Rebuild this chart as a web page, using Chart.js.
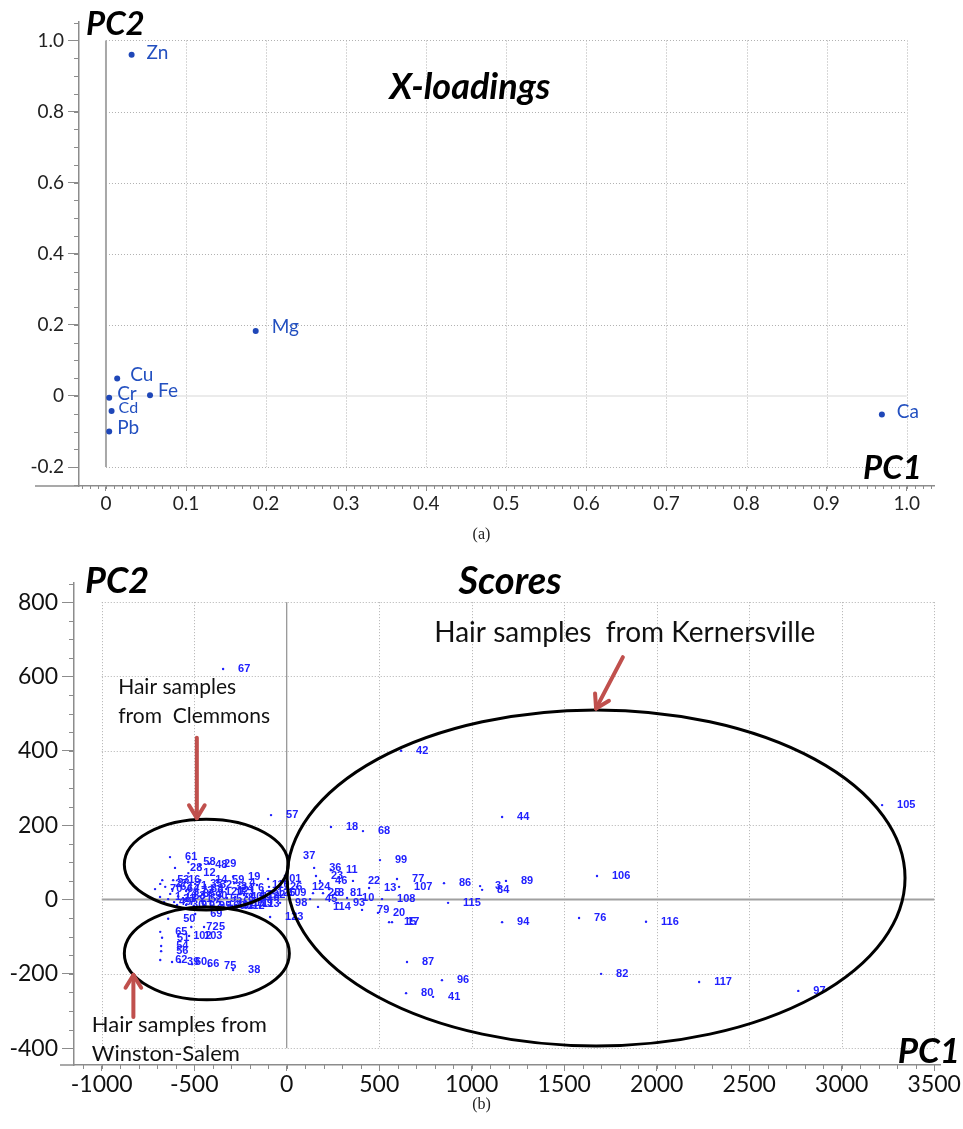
<!DOCTYPE html>
<html><head><meta charset="utf-8">
<script src="https://cdn.jsdelivr.net/npm/chart.js@4.4.0/dist/chart.umd.min.js"></script>
<style>
html,body{margin:0;padding:0;background:#fff;width:963px;height:1129px;overflow:hidden;}
#c1{position:absolute;left:0;top:0;}
#c2{position:absolute;left:0;top:550px;}
.cap{position:absolute;width:963px;left:0;text-align:center;font:16px "Liberation Serif",serif;color:#222;}
</style></head><body>
<canvas id="c1" width="963" height="545"></canvas>
<div class="cap" style="top:525px">(a)</div>
<canvas id="c2" width="963" height="552"></canvas>
<div class="cap" style="top:1095px">(b)</div>
<script>
// ---------- X-loadings data ----------
const elements = ['Zn','Mg','Cu','Cr','Fe','Cd','Pb','Ca'];
const loadPC1 = [0.032, 0.187, 0.014, 0.004, 0.055, 0.007, 0.004, 0.969];
const loadPC2 = [0.960, 0.183, 0.049, -0.005, 0.002, -0.042, -0.100, -0.052];
const loadXTicks = [0, 0.1, 0.2, 0.3, 0.4, 0.5, 0.6, 0.7, 0.8, 0.9, 1.0];
const loadYTicks = [-0.2, 0, 0.2, 0.4, 0.6, 0.8, 1.0];

// ---------- Scores data ----------
const sampleIds = ['57','18','68','44','42','105','37','99','36','11','23','46','22','13','77','107','86','3','84','89',
 '115','108','10','81','93','114','45','25','8','124','98','109','101','126','123','79','20','15','17','94',
 '87','96','80','41','106','76','116','82','117','97',
 '67','61','58','48','29','28','12','53','16','14','35','59','19','33','4','6','110','70','2','49',
 '30','78','40','9','113','118','72','5','69','50','65','51','102','103','54','56','62','39','60','66',
 '75','38','63','64','71','73','74','83','85','88','90','91','92','95','100','111','112','119','120','121',
 '122','125','1','7','21','24','27','31','32','43','47','52','55'];
const scorePC1 = [-85,239,412,1164,618,3218,7,504,148,239,158,180,358,445,596,607,850,1045,1056,1185,
 872,515,326,261,277,169,126,142,196,55,-36,-74,-101,-96,-90,407,493,553,569,1164,
 650,839,645,791,1677,1580,1942,1699,2229,2765,
 -344,-631,-532,-468,-420,-604,-532,-673,-614,-468,-495,-377,-290,-361,-284,-236,-161,-712,-457,-663,
 -593,-323,-279,-317,-215,-215,-516,-447,-495,-641,-684,-674,-587,-528,-679,-679,-684,-620,-577,-512,
 -420,-290,-657,-620,-577,-544,-630,-587,-534,-490,-468,-544,-501,-447,-404,-350,-296,-252,-415,-350,
 -188,-134,-685,-609,-550,-328,-684,-641,-442,-231,-274,-496,-388];
const scorePC2 = [227,195,184,222,400,254,117,106,85,79,63,50,50,31,55,34,44,36,26,50,
 -9,1,4,17,-9,-20,1,17,17,34,-9,17,55,34,-47,-28,-36,-61,-61,-61,
 -168,-217,-252,-262,63,-50,-60,-200,-222,-246,
 620,114,101,93,96,85,71,52,52,52,42,52,61,34,44,31,39,28,15,-7,
 -15,4,7,-17,-12,7,-74,-74,-39,-52,-87,-103,-98,-98,-125,-139,-163,-168,-168,-174,
 -179,-190,34,28,36,23,15,9,15,28,9,-15,-17,-17,-17,-15,-17,-9,20,23,
 12,17,7,-7,1,28,42,1,39,12,-15,1,1];
const scoreXTicks = [-1000, -500, 0, 500, 1000, 1500, 2000, 2500, 3000, 3500];
const scoreYTicks = [-400, -200, 0, 200, 400, 600, 800];
const groupNames = ['Clemmons', 'Winston-Salem', 'Kernersville'];

// ---------- annotation geometry (data units) ----------
const scoreEllipses = [
  {cx:-435, cy:94, rx:443, ry:122},
  {cx:-432, cy:-145, rx:446, ry:125},
  {cx:1672, cy:58, rx:1670, ry:452}
];
const scoreArrows = [
  {x1:-486, y1:435, x2:-486, y2:219},
  {x1:-829, y1:-316, x2:-829, y2:-203},
  {x1:1817, y1:652, x2:1672, y2:514}
];

// ---------- plugins ----------
function line(ctx,a,b,c,d){ctx.beginPath();ctx.moveTo(a,b);ctx.lineTo(c,d);ctx.stroke();}

const frame = {
  id:'frame',
  beforeDatasetsDraw(chart,args,o){
    const {ctx, chartArea:a, scales:{x,y}} = chart;
    ctx.save();
    const X=v=>x.getPixelForValue(v), Y=v=>y.getPixelForValue(v);
    const gx0=X(o.gx[0]), gx1=X(o.gx[1]), gy0=Y(o.gy[0]), gy1=Y(o.gy[1]);
    ctx.strokeStyle=o.gridColor; ctx.lineWidth=1; ctx.setLineDash([1,2]);
    x.ticks.forEach(t=>{ if(t.value===0) return; const p=Math.round(X(t.value))+0.5; line(ctx,p,gy1,p,gy0); });
    y.ticks.forEach(t=>{ if(t.value===0) return; const p=Math.round(Y(t.value))+0.5; line(ctx,gx0,p,gx1,p); });
    ctx.setLineDash([]);
    ctx.strokeStyle=o.hZeroColor; ctx.lineWidth=o.hZeroWidth;
    line(ctx,gx0,Y(0),gx1,Y(0));
    ctx.strokeStyle=o.vZeroColor; ctx.lineWidth=o.vZeroWidth;
    line(ctx,X(0),gy1,X(0),gy0);
    ctx.restore();
  },
  afterDraw(chart,args,o){
    const {ctx, chartArea:a, scales:{x,y}} = chart;
    ctx.save();
    ctx.strokeStyle=o.axisColor; ctx.lineWidth=1;
    for(let v=o.minorX[0]; v<=o.minorX[1]+1e-9; v+=o.minorX[2]){
      const p=Math.round(x.getPixelForValue(v))+0.5;
      if(p<a.left||p>a.right) continue;
      line(ctx,p,a.bottom,p,a.bottom+o.minorLen);
    }
    for(let v=o.minorY[0]; v<=o.minorY[1]+1e-9; v+=o.minorY[2]){
      const p=Math.round(y.getPixelForValue(v))+0.5;
      if(p<a.top||p>a.bottom) continue;
      line(ctx,a.left-o.minorLenY,p,a.left,p);
    }
    ctx.lineWidth=1.5;
    line(ctx,a.left-o.axisExt,a.bottom,a.left,a.bottom);
    ctx.restore();
  }
};

const pointLabels = {
  id:'pointLabels',
  afterDatasetsDraw(chart,args,o){
    const {ctx} = chart;
    const meta = chart.getDatasetMeta(0);
    ctx.save();
    ctx.textBaseline='middle'; ctx.textAlign='left'; ctx.fillStyle=o.color;
    meta.data.forEach((pt,i)=>{
      const s = o.styleFor(i);
      ctx.font = s.font;
      ctx.fillText(o.labels[i], pt.x+s.dx, pt.y+s.dy);
    });
    ctx.restore();
  }
};

const annot = {
  id:'annot',
  afterDraw(chart,args,o){
    const {ctx, scales:{x,y}} = chart;
    const X=v=>x.getPixelForValue(v), Y=v=>y.getPixelForValue(v);
    ctx.save();
    (o.ellipses||[]).forEach(e=>{
      ctx.beginPath();
      ctx.ellipse(X(e.cx),Y(e.cy),Math.abs(X(e.cx+e.rx)-X(e.cx)),Math.abs(Y(e.cy+e.ry)-Y(e.cy)),0,0,Math.PI*2);
      ctx.strokeStyle='#000'; ctx.lineWidth=3; ctx.stroke();
    });
    (o.arrows||[]).forEach(r=>{
      const x1=X(r.x1), y1=Y(r.y1), x2=X(r.x2), y2=Y(r.y2);
      const ang=Math.atan2(y2-y1,x2-x1), L=15, w=0.55;
      ctx.strokeStyle='#c0504d'; ctx.lineWidth=4; ctx.lineCap='round';
      line(ctx,x1,y1,x2,y2);
      line(ctx,x2,y2,x2-L*Math.cos(ang-w),y2-L*Math.sin(ang-w));
      line(ctx,x2,y2,x2-L*Math.cos(ang+w),y2-L*Math.sin(ang+w));
    });
    (o.texts||[]).forEach(t=>{
      ctx.font=t.font; ctx.fillStyle=t.color||'#111'; ctx.textAlign=t.align||'left'; ctx.textBaseline='middle';
      ctx.fillText(t.text, X(t.x), Y(t.y));
    });
    ctx.restore();
  }
};

const AX='#8c8c8c';
function fmt1(v){ return v===0 ? '0' : v.toFixed(1); }

// ---------- Chart 1: X-loadings ----------
const elemStyle = {
  Zn:{dx:15,dy:-2,size:19}, Mg:{dx:16,dy:-4,size:19}, Cu:{dx:13,dy:-4,size:19}, Cr:{dx:8,dy:-4,size:19},
  Fe:{dx:8,dy:-4,size:19}, Cd:{dx:7,dy:-3,size:16}, Pb:{dx:8,dy:-4,size:19}, Ca:{dx:15,dy:-3,size:19}
};
new Chart(document.getElementById('c1'), {
  type:'scatter',
  data:{datasets:[{
    data: elements.map((e,i)=>({x:loadPC1[i], y:loadPC2[i]})),
    pointRadius:3, pointHoverRadius:3, backgroundColor:'#1f47b8', borderWidth:0
  }]},
  options:{
    responsive:false, animation:false, devicePixelRatio:1,
    layout:{padding:{top:22,right:29,left:0,bottom:0}},
    scales:{
      x:{type:'linear', min:-0.0337, max:1.0341,
         afterBuildTicks:s=>{s.ticks=loadXTicks.map(v=>({value:v}));},
         afterFit:s=>{s.height=59;},
         ticks:{callback:v=>fmt1(v), font:{family:'Lato',size:19}, color:'#222', padding:1, maxRotation:0, autoSkip:false},
         grid:{drawOnChartArea:false, drawTicks:true, tickLength:5, color:AX},
         border:{display:true, color:AX, width:1.5}},
      y:{type:'linear', min:-0.2532, max:1.052,
         afterBuildTicks:s=>{s.ticks=loadYTicks.map(v=>({value:v}));},
         afterFit:s=>{s.width=79;},
         ticks:{callback:v=>fmt1(v), font:{family:'Lato',size:19}, color:'#222', padding:4, autoSkip:false},
         grid:{drawOnChartArea:false, drawTicks:true, tickLength:11, color:AX},
         border:{display:true, color:AX, width:1.5}}
    },
    plugins:{
      legend:{display:false}, tooltip:{enabled:false},
      frame:{gx:[0,1.0], gy:[-0.2,1.0], gridColor:'#b0b0b0', hZeroColor:'#e4e4e4', hZeroWidth:1.5,
             vZeroColor:'#a8a8a8', vZeroWidth:2, axisColor:AX, minorX:[-0.03,1.03,0.01], minorY:[-0.25,1.05,0.05],
             minorLen:3, minorLenY:5, axisExt:44},
      pointLabels:{labels:elements, color:'#2350c0',
        styleFor:i=>{const s=elemStyle[elements[i]]; return {dx:s.dx,dy:s.dy,font:s.size+'px Lato'};}},
      annot:{texts:[
        {text:'X-loadings', x:0.4546, y:0.869, align:'center', font:'italic bold 36px Lato', color:'#000'},
        {text:'PC2', x:-0.025, y:1.044, align:'left', font:'italic bold 33px Lato', color:'#000'},
        {text:'PC1', x:1.019, y:-0.2025, align:'right', font:'italic bold 33px Lato', color:'#000'}
      ]}
    }
  },
  plugins:[frame, pointLabels, annot]
});

// ---------- Chart 2: Scores ----------
new Chart(document.getElementById('c2'), {
  type:'scatter',
  data:{datasets:[{
    data: sampleIds.map((s,i)=>({x:scorePC1[i], y:scorePC2[i]})),
    pointRadius:1.2, pointHoverRadius:1.2, backgroundColor:'#2020ff', borderWidth:0
  }]},
  options:{
    responsive:false, animation:false, devicePixelRatio:1,
    layout:{padding:{top:33,right:23,left:0,bottom:0}},
    scales:{
      x:{type:'linear', min:-1150, max:3531,
         afterBuildTicks:s=>{s.ticks=scoreXTicks.map(v=>({value:v}));},
         afterFit:s=>{s.height=37;},
         ticks:{callback:v=>String(v), font:{family:'Lato',size:23}, color:'#111', padding:0, maxRotation:0, autoSkip:false},
         grid:{drawOnChartArea:false, drawTicks:true, tickLength:6, color:AX},
         border:{display:true, color:AX, width:1.5}},
      y:{type:'linear', min:-445.3, max:851.5,
         afterBuildTicks:s=>{s.ticks=scoreYTicks.map(v=>({value:v}));},
         afterFit:s=>{s.width=74;},
         ticks:{callback:v=>String(v), font:{family:'Lato',size:23}, color:'#111', padding:4, autoSkip:false},
         grid:{drawOnChartArea:false, drawTicks:true, tickLength:12, color:AX},
         border:{display:true, color:AX, width:1.5}}
    },
    plugins:{
      legend:{display:false}, tooltip:{enabled:false},
      frame:{gx:[-1000,3500], gy:[-400,800], gridColor:'#b0b0b0', hZeroColor:'#a0a0a0', hZeroWidth:2,
             vZeroColor:'#7a7a7a', vZeroWidth:1, axisColor:AX, minorX:[-1100,3500,100], minorY:[-400,850,50],
             minorLen:4, minorLenY:5, axisExt:14},
      pointLabels:{labels:sampleIds, color:'#2020ff',
        styleFor:()=>({dx:15,dy:0,font:'bold 11px "Liberation Sans"'})},
      annot:{ellipses:scoreEllipses, arrows:scoreArrows, texts:[
        {text:'Scores', x:1207, y:854, align:'center', font:'italic bold 38px Lato', color:'#000'},
        {text:'PC2', x:-1090, y:857, align:'left', font:'italic bold 36px Lato', color:'#000'},
        {text:'PC1', x:3639, y:-410, align:'right', font:'italic bold 35px Lato', color:'#000'},
        {text:'Hair samples  from '+groupNames[2], x:1827, y:717, align:'center', font:'28px Lato'},
        {text:'Hair samples', x:-911, y:572, align:'left', font:'21px Lato'},
        {text:'from  '+groupNames[0], x:-911, y:494, align:'left', font:'21px Lato'},
        {text:'Hair samples from', x:-1054, y:-338, align:'left', font:'22px Lato'},
        {text:groupNames[1], x:-1054, y:-416, align:'left', font:'22px Lato'}
      ]}
    }
  },
  plugins:[frame, pointLabels, annot]
});
</script></body></html>
